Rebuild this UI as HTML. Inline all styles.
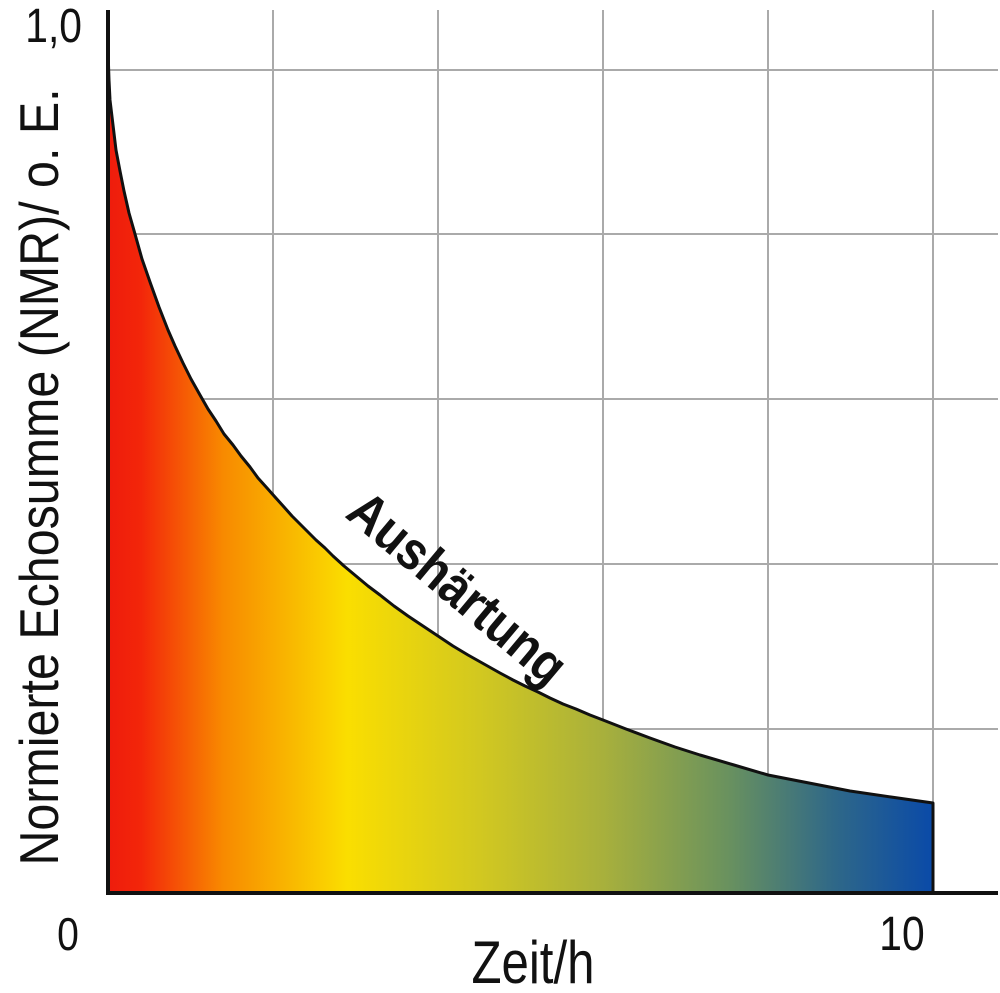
<!DOCTYPE html>
<html><head><style>
html,body{margin:0;padding:0;background:#fff;}
svg{display:block;}
text{font-family:"Liberation Sans",sans-serif;fill:#111;}
</style></head><body>
<svg width="1000" height="993" viewBox="0 0 1000 993" xmlns="http://www.w3.org/2000/svg">
<defs>
<linearGradient id="g" x1="108" y1="0" x2="933" y2="0" gradientUnits="userSpaceOnUse">
<stop offset="0" stop-color="#ee1c0c"/>
<stop offset="0.04" stop-color="#f3260a"/>
<stop offset="0.14" stop-color="#f88a00"/>
<stop offset="0.29" stop-color="#fade00"/>
<stop offset="0.45" stop-color="#d2c820"/>
<stop offset="0.6" stop-color="#a8b03c"/>
<stop offset="0.75" stop-color="#6a925e"/>
<stop offset="0.88" stop-color="#2f6888"/>
<stop offset="1" stop-color="#0a4aa8"/>
</linearGradient>
</defs>
<g stroke="#aaa" stroke-width="2">
<line x1="273" y1="10" x2="273" y2="893"/>
<line x1="438" y1="10" x2="438" y2="893"/>
<line x1="603" y1="10" x2="603" y2="893"/>
<line x1="768" y1="10" x2="768" y2="893"/>
<line x1="933" y1="10" x2="933" y2="893"/>
<line x1="108" y1="70" x2="998" y2="70"/>
<line x1="108" y1="234" x2="998" y2="234"/>
<line x1="108" y1="399" x2="998" y2="399"/>
<line x1="108" y1="564" x2="998" y2="564"/>
<line x1="108" y1="729" x2="998" y2="729"/>
</g>
<path d="M108,12 L108,50 L109,80 L110,100 L113,125 L116,150 L120,171 L124,191 L129,213 L135,234 L142,259 L150,282 L159,307 L168,330 L175,346 L183,363 L191,379 L200,395 L208,409 L216,421 L224,434 L233,445 L241,456 L250,467 L258,478 L267,488 L275,497 L284,507 L292,516 L300,524 L308,532 L316,540 L325,548 L333,556 L344,566 L356,576 L368,586 L380,595 L394,606 L408,616 L423,626 L438,636 L453,646 L468,655 L484,664 L500,673 L513,680 L525,686 L538,692 L550,698 L563,704 L576,709 L590,715 L603,720 L626,729 L650,738 L675,747 L700,755 L734,765 L768,775 L809,783 L850,791 L891,797 L933,803 L933,893 L108,893 Z" fill="url(#g)" stroke="#111" stroke-width="3" stroke-linejoin="round"/>
<line x1="108" y1="10" x2="108" y2="895" stroke="#111" stroke-width="4"/>
<line x1="106" y1="893" x2="998" y2="893" stroke="#111" stroke-width="4"/>
<text x="82" y="42" font-size="48" text-anchor="end" transform="translate(82,0) scale(0.85,1) translate(-82,0)">1,0</text>
<text x="68" y="950" font-size="46" text-anchor="middle" transform="translate(68,0) scale(0.85,1) translate(-68,0)">0</text>
<text x="902" y="950" font-size="48" text-anchor="middle" transform="translate(902,0) scale(0.85,1) translate(-902,0)">10</text>
<text x="533" y="983" font-size="60" text-anchor="middle" transform="translate(533,0) scale(0.82,1) translate(-533,0)">Zeit/h</text>
<text transform="translate(58,477) rotate(-90) scale(0.88,1)" font-size="55" text-anchor="middle">Normierte Echosumme (NMR)/ o. E.</text>
<text transform="translate(446,602) rotate(40) scale(0.88,1)" font-size="54" font-weight="bold" text-anchor="middle">Aushärtung</text>
</svg>
</body></html>
